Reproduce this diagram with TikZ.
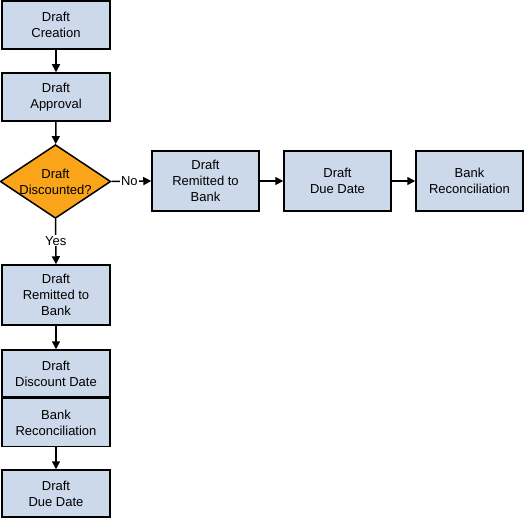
\documentclass[tikz,border=0pt]{standalone}
\usepackage{fontspec}
\setmainfont{Liberation Sans}
\usetikzlibrary{shapes.geometric,arrows.meta}
\definecolor{boxfill}{RGB}{204,217,234}
\definecolor{decfill}{RGB}{250,165,25}
\begin{document}
\begin{tikzpicture}[x=1pt,y=-1pt,
  procbox/.style={draw=black,line width=1.5pt,fill=boxfill,minimum width=108pt,inner sep=0pt,
    align=center,font=\fontsize{13}{16}\selectfont},
  decbox/.style={draw=black,line width=1.5pt,fill=decfill,diamond,aspect=1.5,inner sep=0pt,
    minimum width=107pt,minimum height=71pt,align=center,font=\fontsize{13}{16}\selectfont},
  flow/.style={line width=1.5pt,-{Triangle[length=8pt,width=8pt]}},
  lbl/.style={fill=white,inner sep=1pt,font=\fontsize{13}{14}\selectfont}]
\useasboundingbox (0,0) rectangle (525,519);
\node[procbox,minimum height=48pt] (create) at (56,25) {Draft\\Creation};
\node[procbox,minimum height=48pt] (approve) at (56,97) {Draft\\Approval};
\node[decbox] (disc) at (55.5,181.5) {Draft\\Discounted?};
\node[procbox,minimum height=60pt,minimum width=107pt] (remitR) at (205.5,181) {Draft\\Remitted to\\Bank};
\node[procbox,minimum height=60pt,minimum width=107pt] (dueR) at (337.5,181) {Draft\\Due Date};
\node[procbox,minimum height=60pt,minimum width=107pt] (bankR) at (469.5,181) {Bank\\Reconciliation};
\node[procbox,minimum height=60pt] (remitL) at (56,295) {Draft\\Remitted to\\Bank};
\node[procbox,minimum height=47pt] (discdate) at (56,373.5) {Draft\\Discount Date};
\node[procbox,minimum height=48pt,anchor=north] (bankL) at (discdate.south) {Bank\\Reconciliation};
\node[procbox,minimum height=47pt] (dueL) at (56,493.5) {Draft\\Due Date};
\draw[flow] (create) -- (approve);
\draw[flow] (approve) -- (disc);
\draw[flow] (disc.east) -- node[lbl,pos=0.45] (no) {No} (remitR.west);
\draw[flow] (disc.south) -- node[lbl,pos=0.48] (yes) {Yes} (remitL.north);
\draw[flow] (remitR) -- (dueR);
\draw[flow] (dueR) -- (bankR);
\draw[flow] (remitL) -- (discdate);
\draw[flow] (bankL) -- (dueL);
\end{tikzpicture}
\end{document}
